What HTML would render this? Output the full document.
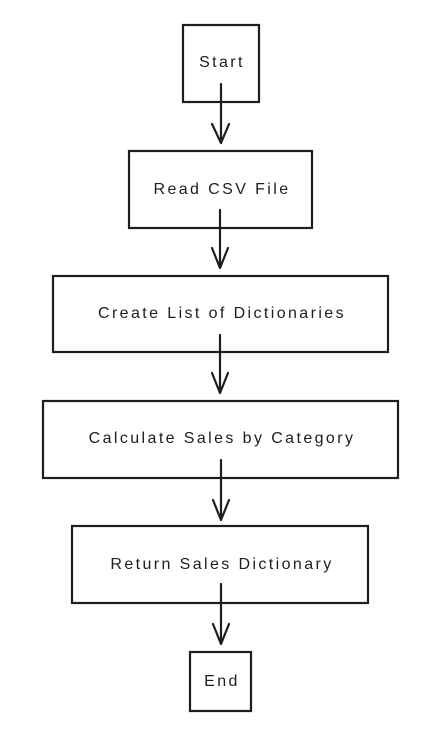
<!DOCTYPE html>
<html><head><style>
html,body{margin:0;padding:0;background:#fff;}
svg{display:block;}
text{font-family:"Liberation Sans",sans-serif;font-size:16px;letter-spacing:2.4px;fill:#1e1e1e;text-anchor:middle;dominant-baseline:middle;}
rect{fill:#fff;stroke:#1e1e1e;stroke-width:2.2;}
path{fill:none;stroke:#1e1e1e;stroke-width:2.2;stroke-linecap:round;stroke-linejoin:round;}
</style></head><body>
<svg width="442" height="740" viewBox="0 0 442 740">
<rect x="183" y="25" width="76" height="77"/>
<text x="222" y="63">Start</text>
<rect x="129" y="151" width="183" height="77"/>
<text x="222" y="190">Read CSV File</text>
<rect x="53" y="276" width="335" height="76"/>
<text x="222" y="314">Create List of Dictionaries</text>
<rect x="43" y="401" width="355" height="77"/>
<text x="222" y="439">Calculate Sales by Category</text>
<rect x="72" y="526" width="296" height="77"/>
<text x="222" y="565">Return Sales Dictionary</text>
<rect x="190" y="652" width="61" height="59"/>
<text x="222" y="682">End</text>

<path d="M221 84 L221 143 M212 124 L221 143 L229 124"/>
<path d="M220 210 L220 268 M212 248 L220 268 L228 248"/>
<path d="M220 335 L220 393 M212 373 L220 393 L228 373"/>
<path d="M221 460 L221 520 M213 500 L221 520 L229 500"/>
<path d="M221 584 L221 644 M213 624 L221 644 L229 624"/>
</svg>
</body></html>
